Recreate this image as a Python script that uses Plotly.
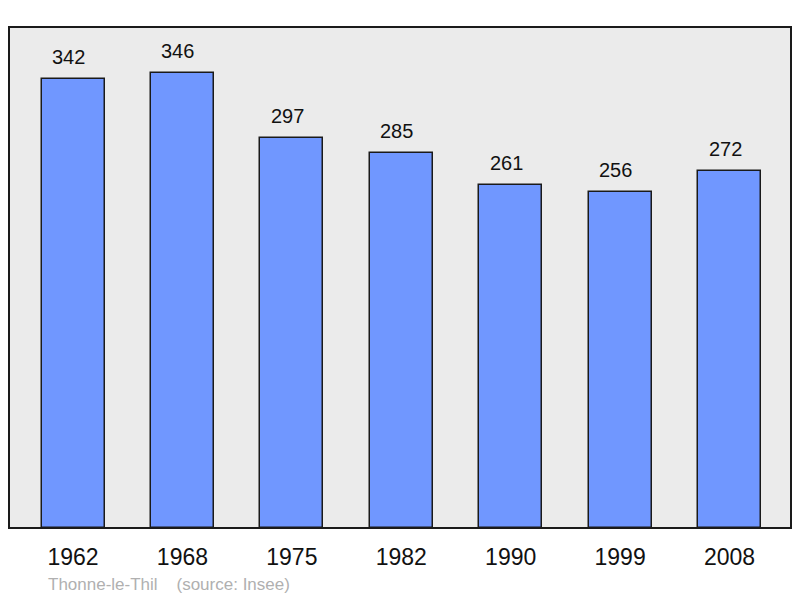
import plotly.graph_objects as go

years = ["1962", "1968", "1975", "1982", "1990", "1999", "2008"]
population = [342, 346, 297, 285, 261, 256, 272]
positions = list(range(len(years)))

fig = go.Figure()
fig.add_trace(go.Bar(
    x=positions, y=population, width=0.576,
    marker=dict(color="#7097ff", line=dict(color="#1a1a1a", width=1.5)),
    hoverinfo="skip",
))

for xi, v in zip(positions, population):
    fig.add_annotation(x=xi, y=v, text=str(v), showarrow=False, yanchor="bottom",
                       yshift=9, xshift=-4.5,
                       font=dict(family="Liberation Sans, Arial", size=20, color="#111"))

fig.add_shape(type="rect", xref="paper", yref="paper", x0=0, y0=0, x1=1, y1=1,
              line=dict(color="#1a1a1a", width=2), layer="above")

fig.add_annotation(xref="paper", yref="paper", x=(46 - 9) / 782, y=-(584 - 528) / 501,
                   xanchor="left", yanchor="middle", showarrow=False,
                   text="Thonne-le-Thil    (source: Insee)",
                   font=dict(family="Liberation Sans, Arial", size=17, color="#b0b0b0"))

fig.update_layout(
    width=792, height=590,
    margin=dict(l=1, r=9, t=19, b=70),
    paper_bgcolor="white", plot_bgcolor="#ebebeb",
    showlegend=False, bargap=0,
    xaxis=dict(range=[-0.585, 6.562], tickvals=positions, ticktext=years,
               showgrid=False, zeroline=False, showline=False,
               ticks="outside", ticklen=8, tickcolor="rgba(0,0,0,0)",
               tickfont=dict(family="Liberation Sans, Arial", size=23, color="#111")),
    yaxis=dict(range=[0, 381.2], showgrid=False, zeroline=False, showticklabels=False,
               showline=False),
)

fig.write_html("out.html")
